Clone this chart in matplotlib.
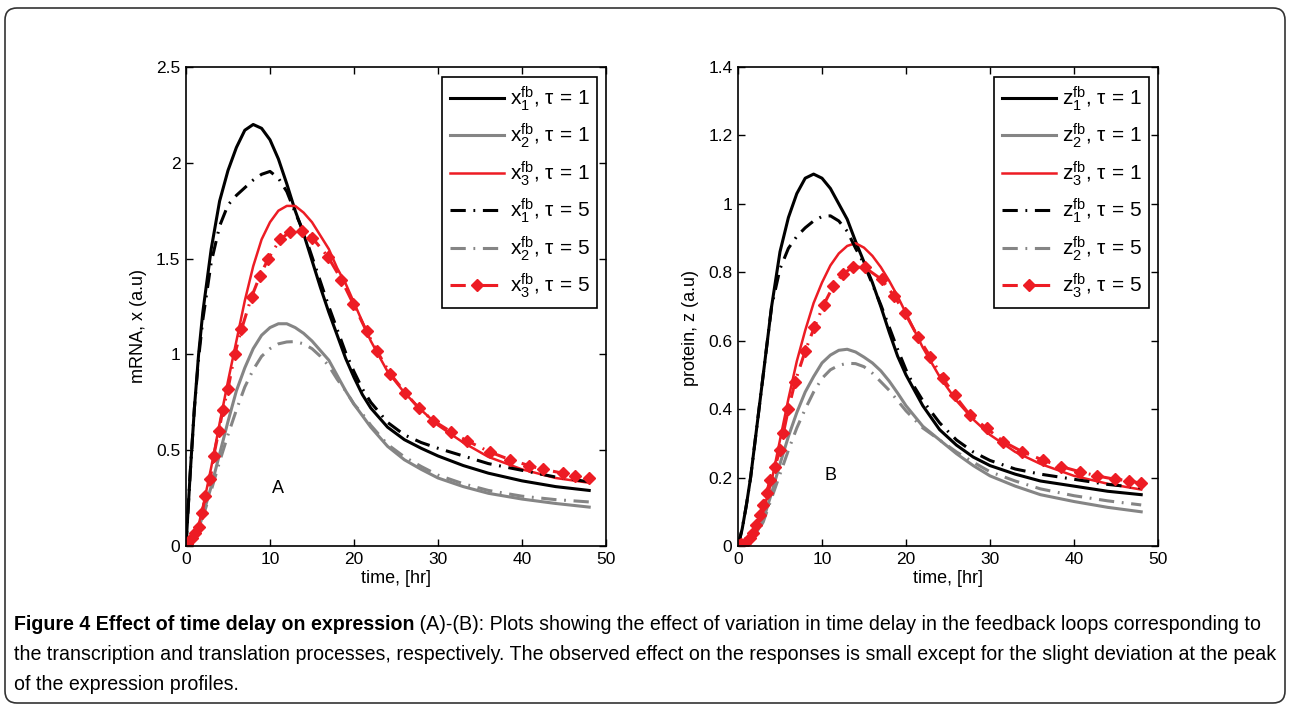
import matplotlib
matplotlib.use("Agg")
import matplotlib.pyplot as plt
from matplotlib.patches import FancyBboxPatch
from matplotlib.ticker import FormatStrFormatter

plt.rcParams['font.family'] = ['Liberation Sans', 'DejaVu Sans']
plt.rcParams['mathtext.fontset'] = 'custom'
plt.rcParams['mathtext.rm'] = 'Liberation Sans'
plt.rcParams['mathtext.it'] = 'Liberation Sans'

# time grid of the smooth curves (hr)
t = [0, 0.5, 1, 1.5, 2, 3, 4, 5, 6, 7, 8, 9, 10, 11, 12, 13, 14, 15, 16, 17,
     18, 19, 20, 21, 22, 24, 26, 28, 30, 33, 36, 40, 44, 48]

# panel A: mRNA
x1_tau1 = [0, 0.38, 0.72, 1.0, 1.22, 1.55, 1.80, 1.96, 2.08, 2.17, 2.20, 2.18, 2.12, 2.02,
           1.89, 1.75, 1.63, 1.49, 1.35, 1.22, 1.10, 0.98, 0.88, 0.79, 0.72, 0.62, 0.555,
           0.51, 0.47, 0.42, 0.38, 0.34, 0.31, 0.29]
x2_tau1 = [0, 0.01, 0.04, 0.09, 0.16, 0.31, 0.48, 0.65, 0.81, 0.93, 1.03, 1.10, 1.14, 1.16,
           1.16, 1.14, 1.11, 1.07, 1.02, 0.97, 0.89, 0.81, 0.74, 0.68, 0.62, 0.52, 0.45,
           0.40, 0.355, 0.31, 0.275, 0.245, 0.222, 0.203]
x3_tau1 = [0, 0.012, 0.05, 0.11, 0.2, 0.41, 0.64, 0.86, 1.07, 1.28, 1.46, 1.60, 1.69, 1.75,
           1.775, 1.775, 1.74, 1.69, 1.62, 1.55, 1.45, 1.37, 1.27, 1.17, 1.07, 0.91, 0.80,
           0.71, 0.63, 0.54, 0.465, 0.40, 0.355, 0.33]
x1_tau5 = [0, 0.38, 0.72, 0.98, 1.18, 1.48, 1.67, 1.78, 1.83, 1.87, 1.91, 1.94, 1.955, 1.92,
           1.85, 1.74, 1.64, 1.51, 1.38, 1.25, 1.13, 1.01, 0.91, 0.82, 0.75, 0.645, 0.58,
           0.54, 0.51, 0.47, 0.43, 0.395, 0.36, 0.335]
x2_tau5 = [0, 0.01, 0.04, 0.085, 0.15, 0.29, 0.44, 0.58, 0.71, 0.83, 0.92, 0.99, 1.03, 1.055,
           1.065, 1.067, 1.055, 1.03, 0.99, 0.94, 0.87, 0.81, 0.74, 0.69, 0.63, 0.53, 0.465,
           0.415, 0.37, 0.325, 0.29, 0.26, 0.242, 0.23]
t_x3_tau5 = [0, 0.1, 0.7, 1.1, 1.5, 1.9, 2.3, 2.9, 3.3, 3.9, 4.4, 5.0, 5.8, 6.6, 7.8, 8.8,
             9.8, 11.2, 12.4, 13.8, 15.0, 16.9, 18.5, 19.9, 21.5, 22.7, 24.3, 26.1, 27.7,
             29.4, 31.6, 33.4, 36.2, 38.6, 40.8, 42.5, 44.9, 46.3, 48.0]
x3_tau5 = [0, 0.01, 0.04, 0.066, 0.10, 0.17, 0.26, 0.35, 0.47, 0.60, 0.71, 0.82, 1.0, 1.13,
           1.30, 1.41, 1.50, 1.60, 1.64, 1.645, 1.61, 1.51, 1.39, 1.265, 1.12, 1.02, 0.90,
           0.80, 0.72, 0.655, 0.595, 0.55, 0.49, 0.45, 0.42, 0.40, 0.38, 0.365, 0.355]

# panel B: protein
z1_tau1 = [0, 0.05, 0.12, 0.2, 0.3, 0.5, 0.70, 0.86, 0.96, 1.03, 1.075, 1.087, 1.075, 1.045,
           1.0, 0.955, 0.89, 0.83, 0.77, 0.70, 0.625, 0.555, 0.50, 0.455, 0.41, 0.34, 0.295,
           0.26, 0.235, 0.21, 0.19, 0.175, 0.16, 0.15]
z2_tau1 = [0, 0.001, 0.005, 0.015, 0.03, 0.076, 0.155, 0.24, 0.32, 0.39, 0.45, 0.495, 0.535,
           0.558, 0.572, 0.575, 0.567, 0.552, 0.535, 0.512, 0.482, 0.447, 0.41, 0.38, 0.35,
           0.31, 0.27, 0.235, 0.205, 0.175, 0.15, 0.13, 0.113, 0.10]
z3_tau1 = [0, 0.002, 0.008, 0.02, 0.04, 0.1, 0.19, 0.31, 0.43, 0.54, 0.63, 0.71, 0.77, 0.82,
           0.855, 0.877, 0.885, 0.872, 0.848, 0.815, 0.775, 0.73, 0.68, 0.63, 0.58, 0.495,
           0.425, 0.37, 0.325, 0.275, 0.24, 0.205, 0.182, 0.165]
z1_tau5 = [0, 0.05, 0.12, 0.2, 0.3, 0.5, 0.70, 0.81, 0.87, 0.905, 0.93, 0.95, 0.963, 0.965,
           0.95, 0.92, 0.87, 0.825, 0.765, 0.705, 0.64, 0.575, 0.515, 0.465, 0.425, 0.36,
           0.31, 0.275, 0.25, 0.225, 0.21, 0.195, 0.18, 0.17]
z2_tau5 = [0, 0.001, 0.005, 0.014, 0.028, 0.07, 0.14, 0.21, 0.28, 0.345, 0.40, 0.45, 0.49,
           0.515, 0.528, 0.534, 0.533, 0.524, 0.505, 0.48, 0.455, 0.425, 0.395, 0.37, 0.345,
           0.31, 0.275, 0.245, 0.217, 0.19, 0.167, 0.147, 0.132, 0.12]
t_z3_tau5 = [0, 0.04, 0.4, 0.83, 1.43, 1.82, 2.2, 2.6, 3.0, 3.4, 3.8, 4.4, 5.0, 5.4, 6.0,
             6.8, 8.0, 9.1, 10.2, 11.35, 12.5, 13.7, 15.1, 17.1, 18.6, 19.9, 21.4, 22.9,
             24.4, 25.8, 27.6, 29.6, 31.6, 33.8, 36.3, 38.5, 40.7, 42.7, 44.9, 46.5, 48.0]
z3_tau5 = [0, 0.003, 0.005, 0.008, 0.022, 0.037, 0.061, 0.09, 0.12, 0.154, 0.193, 0.232,
           0.28, 0.33, 0.40, 0.48, 0.57, 0.64, 0.705, 0.76, 0.795, 0.816, 0.814, 0.779, 0.73,
           0.68, 0.612, 0.553, 0.49, 0.44, 0.383, 0.344, 0.305, 0.276, 0.251, 0.232, 0.217,
           0.205, 0.195, 0.191, 0.183]

RED = '#ED1C24'
GRAY = '#858585'
DD = (5, 2.5, 0.6, 2.5)   # matlab-ish dash-dot

caption_bold = "Figure 4 Effect of time delay on expression"
caption_lines = [
    " (A)-(B): Plots showing the effect of variation in time delay in the feedback loops corresponding to",
    "the transcription and translation processes, respectively. The observed effect on the responses is small except for the slight deviation at the peak",
    "of the expression profiles.",
]

W, H = 1289, 706
fig = plt.figure(figsize=(W / 100, H / 100), dpi=100)

# outer rounded frame
fig.patches.append(FancyBboxPatch((0.05, 0.03), 12.80, 6.95,
                                  boxstyle="round,pad=0,rounding_size=0.12",
                                  transform=fig.dpi_scale_trans, fill=False,
                                  edgecolor='#333333', linewidth=1.2))


def panel(left, var, series, t3, v3, ylim, ystep, ylabel, letter, letter_y, ylab_y):
    ax = fig.add_axes([left / W, (H - 546) / H, 420 / W, 479 / H])
    s1, s2, s3, d1, d2 = series
    ax.plot(t, s1, color='black', lw=2.2, label=r'$\mathregular{%s_1^{fb}}$, τ = 1' % var)
    ax.plot(t, s2, color=GRAY, lw=2.2, label=r'$\mathregular{%s_2^{fb}}$, τ = 1' % var)
    ax.plot(t, s3, color=RED, lw=1.8, label=r'$\mathregular{%s_3^{fb}}$, τ = 1' % var)
    ax.plot(t, d1, color='black', lw=2.2, dashes=DD, label=r'$\mathregular{%s_1^{fb}}$, τ = 5' % var)
    ax.plot(t, d2, color=GRAY, lw=2.2, dashes=DD, label=r'$\mathregular{%s_2^{fb}}$, τ = 5' % var)
    ax.plot(t3, v3, color=RED, lw=2.2, dashes=DD, marker='D', ms=6.5, mec=RED, mfc=RED,
            label=r'$\mathregular{%s_3^{fb}}$, τ = 5' % var)

    ax.set_xlim(0, 50)
    ax.set_ylim(0, ylim)
    ax.set_xticks(range(0, 51, 10))
    ax.set_yticks([i * ystep for i in range(int(round(ylim / ystep)) + 1)])
    ax.yaxis.set_major_formatter(FormatStrFormatter('%g'))
    ax.tick_params(direction='in', top=True, right=True, length=5, width=1,
                   labelsize=12.5, pad=4)
    for sp in ax.spines.values():
        sp.set_linewidth(1.2)

    ax.set_xlabel('time, [hr]', fontsize=13)
    ax.xaxis.set_label_coords(0.5, -24 / 479)
    ax.set_ylabel(ylabel, fontsize=13)
    ax.yaxis.set_label_coords(-0.092, ylab_y)
    ax.text(11, letter_y, letter, fontsize=13, ha='center', va='center')

    leg = ax.legend(loc='upper right', bbox_to_anchor=(1 - 9 / 420, 1 - 10 / 479),
                    borderaxespad=0, fontsize=15, handlelength=2.6, handletextpad=0.3,
                    labelspacing=0.42, borderpad=0.35, fancybox=False, framealpha=1,
                    edgecolor='black')
    leg.get_frame().set_linewidth(1.2)
    return ax


panel(186, 'x', (x1_tau1, x2_tau1, x3_tau1, x1_tau5, x2_tau5), t_x3_tau5, x3_tau5,
      2.5, 0.5, 'mRNA, x (a.u)', 'A', 0.30, 0.46)
panel(738, 'z', (z1_tau1, z2_tau1, z3_tau1, z1_tau5, z2_tau5), t_z3_tau5, z3_tau5,
      1.4, 0.2, 'protein, z (a.u)', 'B', 0.205, 0.455)

# caption, sized so the long second line spans the frame width
renderer = fig.canvas.get_renderer()
x0 = 14 / W
ys = [625, 655, 684]
probe = fig.text(0, 0, caption_lines[1], fontsize=12.5)
cap_size = 12.5 * 1262 / probe.get_window_extent(renderer).width
probe.remove()

tb = fig.text(x0, 1 - ys[0] / H, caption_bold, fontsize=cap_size, weight='bold',
              va='center', ha='left')
bb = tb.get_window_extent(renderer)
fig.text(bb.x1 / W, 1 - ys[0] / H, caption_lines[0], fontsize=cap_size, va='center', ha='left')
for line, y in zip(caption_lines[1:], ys[1:]):
    fig.text(x0, 1 - y / H, line, fontsize=cap_size, va='center', ha='left')

fig.savefig('out.png', dpi=100)
